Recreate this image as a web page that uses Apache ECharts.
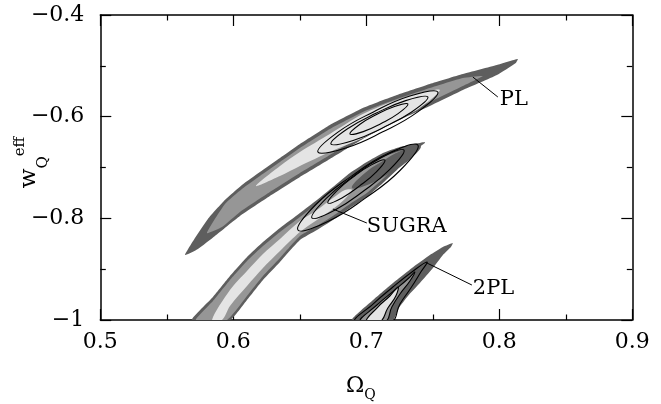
<!DOCTYPE html>
<html><head><meta charset="utf-8">
<script src="https://cdn.jsdelivr.net/npm/echarts@6/dist/echarts.min.js"></script>
<style>html,body{margin:0;padding:0;background:#fff}#c{width:661px;height:404px}</style>
</head><body><div id="c"></div>
<script>
// ---- axis ranges ----
const xRange = [0.5, 0.9], xStep = 0.1;
const yRange = [-1.0, -0.4], yStep = 0.2;

// ---- PL region (Omega_Q, w_Q^eff) outlines ----
const PL_outer = [[0.5637,-0.8722],[0.5712,-0.8387],[0.5809,-0.8013],[0.5937,-0.7640],[0.6065,-0.7344],[0.6200,-0.7089],[0.6351,-0.6813],[0.6501,-0.6538],[0.6726,-0.6164],[0.6974,-0.5830],[0.7230,-0.5574],[0.7478,-0.5357],[0.7726,-0.5161],[0.7982,-0.4984],[0.8139,-0.4866],[0.8124,-0.4944],[0.7982,-0.5180],[0.7726,-0.5476],[0.7478,-0.5790],[0.7230,-0.6085],[0.6974,-0.6439],[0.6726,-0.6833],[0.6501,-0.7187],[0.6275,-0.7561],[0.6050,-0.7954],[0.5862,-0.8348],[0.5734,-0.8604]];
const PL_medium = [[0.5802,-0.8289],[0.5937,-0.7718],[0.6065,-0.7423],[0.6200,-0.7167],[0.6351,-0.6892],[0.6501,-0.6617],[0.6726,-0.6243],[0.6974,-0.5908],[0.7230,-0.5653],[0.7478,-0.5436],[0.7726,-0.5239],[0.7876,-0.5200],[0.7726,-0.5397],[0.7478,-0.5712],[0.7230,-0.6007],[0.6974,-0.6361],[0.6726,-0.6754],[0.6501,-0.7108],[0.6275,-0.7482],[0.6050,-0.7876],[0.5915,-0.8171]];
const PL_light = [[0.6170,-0.7364],[0.6351,-0.6971],[0.6501,-0.6695],[0.6726,-0.6341],[0.6974,-0.5948],[0.7230,-0.5672],[0.7403,-0.5535],[0.7553,-0.5476],[0.7403,-0.5830],[0.7230,-0.6066],[0.6974,-0.6420],[0.6726,-0.6695],[0.6501,-0.6971],[0.6351,-0.7167]];
const PL_c1 = [[0.6636,-0.6695],[0.6787,-0.6304],[0.7050,-0.5912],[0.7328,-0.5595],[0.7538,-0.5515],[0.7387,-0.5906],[0.7124,-0.6298],[0.6846,-0.6615]];
const PL_c2 = [[0.6734,-0.6538],[0.6859,-0.6239],[0.7072,-0.5934],[0.7296,-0.5684],[0.7463,-0.5613],[0.7338,-0.5912],[0.7125,-0.6217],[0.6901,-0.6467]];
const PL_c3 = [[0.6877,-0.6341],[0.6950,-0.6154],[0.7077,-0.5959],[0.7212,-0.5800],[0.7313,-0.5751],[0.7239,-0.5940],[0.7112,-0.6133],[0.6977,-0.6294]];

// ---- SUGRA region ----
const SUGRA_outer = [[0.5689,-1.0],[0.5847,-0.9548],[0.5975,-0.9135],[0.6103,-0.8761],[0.6223,-0.8466],[0.6351,-0.8190],[0.6501,-0.7895],[0.6629,-0.7640],[0.6749,-0.7384],[0.6877,-0.7108],[0.7004,-0.6892],[0.7125,-0.6715],[0.7253,-0.6597],[0.7440,-0.6499],[0.7440,-0.6518],[0.7350,-0.6695],[0.7253,-0.6990],[0.7125,-0.7305],[0.7004,-0.7581],[0.6877,-0.7797],[0.6749,-0.8033],[0.6629,-0.8230],[0.6501,-0.8427],[0.6351,-0.8859],[0.6223,-0.9213],[0.6103,-0.9607],[0.5975,-1.0]];
const SUGRA_medium = [[0.5719,-1.0],[0.5847,-0.9627],[0.5975,-0.9213],[0.6103,-0.8840],[0.6223,-0.8545],[0.6351,-0.8269],[0.6501,-0.7974],[0.6629,-0.7718],[0.6749,-0.7463],[0.6877,-0.7187],[0.7004,-0.6971],[0.7125,-0.6794],[0.7253,-0.6676],[0.7365,-0.6617],[0.7253,-0.6912],[0.7125,-0.7226],[0.7004,-0.7502],[0.6877,-0.7718],[0.6749,-0.7954],[0.6629,-0.8151],[0.6501,-0.8348],[0.6351,-0.8781],[0.6223,-0.9135],[0.6103,-0.9528],[0.5952,-1.0]];
const SUGRA_light = [[0.5840,-1.0],[0.5975,-0.9410],[0.6103,-0.9036],[0.6223,-0.8702],[0.6351,-0.8407],[0.6501,-0.8053],[0.6629,-0.7836],[0.6749,-0.7600],[0.6839,-0.7443],[0.6892,-0.7443],[0.6839,-0.7620],[0.6749,-0.7817],[0.6629,-0.8033],[0.6501,-0.8269],[0.6351,-0.8643],[0.6223,-0.8977],[0.6103,-0.9331],[0.5975,-0.9725],[0.5915,-1.0]];
const SUGRA_dark = [[0.6892,-0.7404],[0.6974,-0.7144],[0.7124,-0.6872],[0.7285,-0.6648],[0.7410,-0.6577],[0.7328,-0.6837],[0.7178,-0.7108],[0.7017,-0.7333]];
const SUGRA_c1 = [[0.6486,-0.8230],[0.6621,-0.7728],[0.6881,-0.7185],[0.7162,-0.6725],[0.7388,-0.6557],[0.7253,-0.7059],[0.6993,-0.7602],[0.6711,-0.8063]];
const SUGRA_c2 = [[0.6591,-0.7994],[0.6697,-0.7612],[0.6897,-0.7183],[0.7112,-0.6809],[0.7283,-0.6656],[0.7177,-0.7038],[0.6977,-0.7466],[0.6762,-0.7840]];
const SUGRA_c3 = [[0.6711,-0.7699],[0.6778,-0.7461],[0.6901,-0.7189],[0.7035,-0.6953],[0.7140,-0.6853],[0.7074,-0.7091],[0.6950,-0.7362],[0.6817,-0.7598]];

// ---- 2PL region ----
const TPL_outer = [[0.6892,-1.0],[0.7042,-0.9627],[0.7192,-0.9292],[0.7343,-0.8977],[0.7478,-0.8722],[0.7576,-0.8564],[0.7651,-0.8486],[0.7636,-0.8564],[0.7576,-0.8722],[0.7501,-0.8977],[0.7403,-0.9273],[0.7313,-0.9528],[0.7245,-0.9764],[0.7200,-1.0]];
const TPL_c1 = [[0.6914,-1.004],[0.7050,-0.9686],[0.7200,-0.9351],[0.7343,-0.9056],[0.7456,-0.8859],[0.7410,-0.9056],[0.7335,-0.9371],[0.7253,-0.9686],[0.7185,-1.004]];
const TPL_c2 = [[0.6952,-1.004],[0.7080,-0.9705],[0.7215,-0.9410],[0.7320,-0.9174],[0.7365,-0.9056],[0.7328,-0.9233],[0.7253,-0.9489],[0.7192,-0.9745],[0.7140,-1.004]];
const TPL_c3 = [[0.6997,-1.004],[0.7087,-0.9745],[0.7177,-0.9528],[0.7238,-0.9351],[0.7222,-0.9528],[0.7162,-0.9764],[0.7102,-1.004]];

// ---- annotations ----
const labelNames = ['PL', 'SUGRA', '2PL'];
const labelX = [0.8004, 0.7004, 0.7801];
const labelY = [-0.5672, -0.8171, -0.9390];
const pointerLines = [
  [[0.7801,-0.5220],[0.7989,-0.5613]],
  [[0.6749,-0.7817],[0.7004,-0.8092]],
  [[0.7456,-0.8879],[0.7794,-0.9312]]
];

const DARK = '#5e5e5e', MID = '#969696', LIGHT = '#e4e4e4', INK = '#000';
const FONT = 'DejaVu Serif';

function poly(points, fill, stroke, lw, smooth) {
  return {
    type: 'custom', coordinateSystem: 'cartesian2d', clip: true, silent: true,
    data: [points[0]],
    renderItem: function (params, api) {
      const pts = points.map(p => api.coord(p));
      return { type: 'polygon', shape: { points: pts, smooth: smooth || 0 },
        style: { fill: fill || 'none', stroke: stroke || 'none', lineWidth: lw || 0 } };
    }
  };
}
function contour(points) { return poly(points, null, INK, 1.1, 0.45); }

const series = [
  poly(PL_outer, DARK, null, 0, 0.15),
  poly(PL_medium, MID, null, 0, 0.15),
  poly(PL_light, LIGHT, null, 0, 0.3),
  contour(PL_c1), contour(PL_c2), contour(PL_c3),
  poly(SUGRA_outer, DARK, null, 0, 0.15),
  poly(SUGRA_medium, MID, null, 0, 0.15),
  poly(SUGRA_light, LIGHT, null, 0, 0.3),
  poly(SUGRA_dark, DARK, null, 0, 0.45),
  contour(SUGRA_c1), contour(SUGRA_c2), contour(SUGRA_c3),
  poly(TPL_outer, DARK, null, 0, 0.15),
  poly(TPL_c2, MID, null, 0, 0.45),
  poly(TPL_c3, LIGHT, null, 0, 0.45),
  contour(TPL_c1), contour(TPL_c2), contour(TPL_c3)
];
pointerLines.forEach(l => series.push({
  type: 'line', data: l, symbol: 'none', silent: true, clip: false,
  lineStyle: { color: INK, width: 1 }
}));
series.push({
  type: 'custom', coordinateSystem: 'cartesian2d', silent: true, clip: false,
  data: labelNames.map((n, i) => [labelX[i], labelY[i], i]),
  renderItem: function (params, api) {
    const p = api.coord([api.value(0), api.value(1)]);
    return { type: 'text', x: p[0], y: p[1],
      style: { text: labelNames[api.value(2)], fill: INK, font: '21px "' + FONT + '"', align: 'left', verticalAlign: 'middle' } };
  }
});

const fmt = v => String(+(+v).toFixed(2)).replace('-', '\u2212');
function xAx(pos, show) {
  return {
    type: 'value', position: pos, min: xRange[0], max: xRange[1], interval: xStep,
    axisLine: { show: true, onZero: false, lineStyle: { color: INK, width: 1.5 } },
    axisTick: { show: true, inside: true, length: 11, lineStyle: { color: INK, width: 1.2 } },
    minorTick: { show: true, splitNumber: 2, length: 5.5, lineStyle: { color: INK, width: 1.2 } },
    splitLine: { show: false }, minorSplitLine: { show: false },
    axisLabel: { show: show, margin: 11, color: INK, fontFamily: FONT, fontSize: 22, formatter: fmt },
    name: show ? '{o|\u03A9}{s|Q}' : '', nameLocation: 'middle', nameGap: 55, nameMoveOverlap: false,
    nameTextStyle: { padding: [0, 11, 0, 0], rich: {
      o: { fontFamily: FONT, fontSize: 22, lineHeight: 24, color: INK, verticalAlign: 'top' },
      s: { fontFamily: FONT, fontSize: 14, lineHeight: 15, color: INK, verticalAlign: 'top', padding: [13, 0, 0, 0] }
    } }
  };
}
function yAx(pos, show) {
  return {
    type: 'value', position: pos, min: yRange[0], max: yRange[1], interval: yStep,
    axisLine: { show: true, onZero: false, lineStyle: { color: INK, width: 1.5 } },
    axisTick: { show: true, inside: true, length: 11, lineStyle: { color: INK, width: 1.2 } },
    minorTick: { show: true, splitNumber: 2, length: 5.5, lineStyle: { color: INK, width: 1.2 } },
    splitLine: { show: false }, minorSplitLine: { show: false },
    axisLabel: { show: show, margin: 16, color: INK, fontFamily: FONT, fontSize: 22, formatter: fmt },
    name: show ? '{w|w}{q|Q}{e|eff}' : '', nameLocation: 'middle', nameRotate: 90, nameGap: 50, nameMoveOverlap: false,
    nameTextStyle: { padding: [0, 0, 0, 10], rich: {
      w: { fontFamily: FONT, fontSize: 23, lineHeight: 42, color: INK, verticalAlign: 'middle' },
      q: { fontFamily: FONT, fontSize: 15, lineHeight: 15, color: INK, verticalAlign: 'bottom' },
      e: { fontFamily: FONT, fontSize: 15, lineHeight: 15, color: INK, verticalAlign: 'top', padding: [4, 0, 0, 0] }
    } }
  };
}

const chart = echarts.init(document.getElementById('c'));
chart.setOption({
  animation: false,
  backgroundColor: '#fff',
  grid: { left: 100.3, right: 28.7, top: 15, bottom: 84, containLabel: false, outerBoundsMode: 'none' },
  xAxis: [xAx('bottom', true), xAx('top', false)],
  yAxis: [yAx('left', true), yAx('right', false)],
  series: series
});
</script></body></html>
